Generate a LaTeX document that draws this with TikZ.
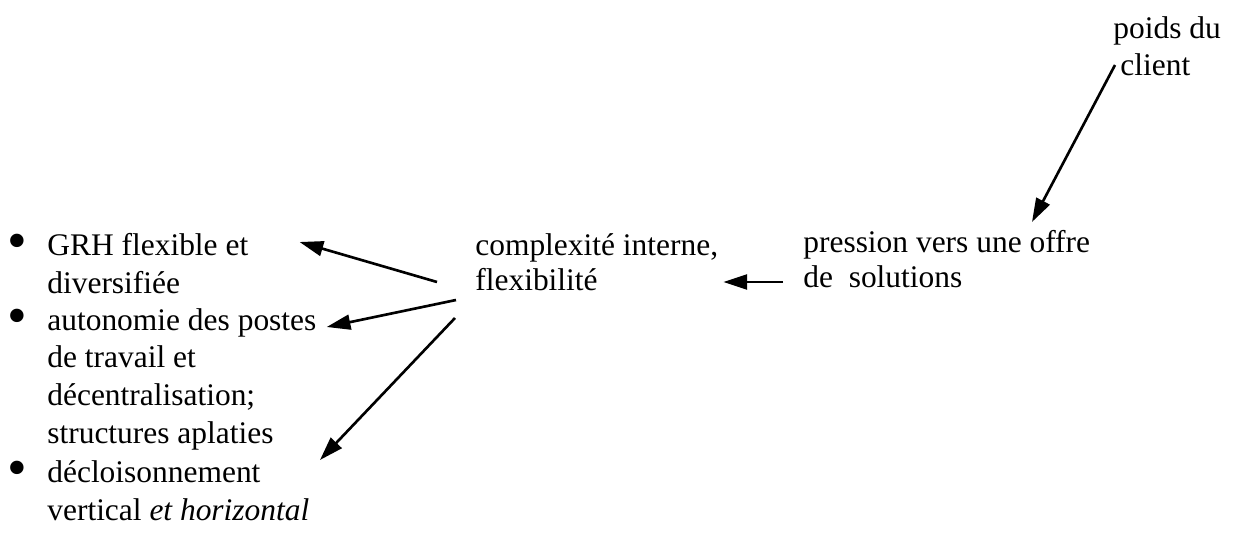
\documentclass[tikz,border=0pt]{standalone}
\usepackage{fontspec}
\setmainfont{Liberation Serif}
\usetikzlibrary{arrows.meta,calc}

\begin{document}
\begin{tikzpicture}[x=0.02cm, y=-0.02cm,
  >={Triangle[length=13.5pt,width=8.5pt]},
  txt/.style={inner sep=0pt, anchor=base west, align=left, font=\fontsize{17.9}{21.4}\selectfont},
  tight/.style={font=\fontsize{17.9}{19.6}\selectfont},
  dot/.style={inner sep=0pt, anchor=base, font=\fontsize{32}{32}\selectfont},
  arr/.style={->, line width=1.5pt}]
\useasboundingbox (0,0) rectangle (1234,534);
% list of consequences (placed at the last baseline)
\node[txt] (grh) at (47,293) {GRH flexible et\\diversifiée};
\node[txt] (auto) at (47,443) {autonomie des postes\\de travail et\\décentralisation;\\structures aplaties};
\node[txt] (decl) at (47,520) {décloisonnement\\vertical \textit{et horizontal}};
\node[dot] (b1) at ($(grh.base west)+(-30,-33.4)$) {•};
\node[dot] (b2) at ($(auto.base west)+(-30,-109)$) {•};
\node[dot] (b3) at ($(decl.base west)+(-30,-33.4)$) {•};
% causes
\node[txt, tight] (cplx) at (475,290) {complexité interne,\\flexibilité};
\node[txt, tight] (press) at (803,287) {pression vers une offre\\de\ \ solutions};
\node[txt, font=\fontsize{17.9}{21}\selectfont] (poids) at (1113,75) {poids du\\\hspace{4pt}client};
% arrows
\draw[arr] ($(poids.base west)+(2,-10)$) -- ($(press.base west)+(229,-65)$);
\draw[arr] ($(press.base west)+(-20,-5)$) -- ($(cplx.base east)+(5,-8)$);
\draw[arr] ($(cplx.base west)+(-38,-8)$) -- ($(grh.base east)+(51,-51)$);
\draw[arr] ($(cplx.base west)+(-19,10)$) -- ($(auto.base east)+(10,-116)$);
\draw[arr] ($(cplx.base west)+(-20,28)$) -- ($(decl.base west)+(273,-60)$);
\end{tikzpicture}
\end{document}
